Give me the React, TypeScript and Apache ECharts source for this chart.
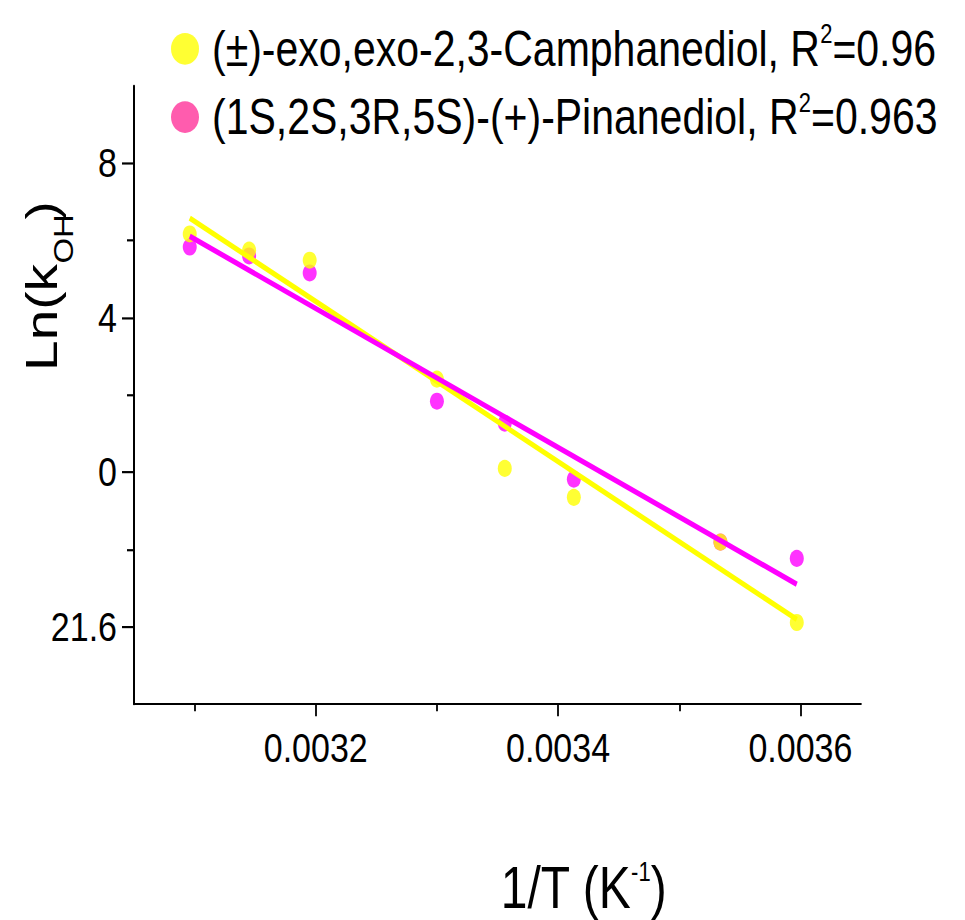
import React, { useEffect, useRef } from "react";
import * as echarts from "echarts";

// ---- data ----
const invT = [0.003096, 0.003145, 0.003195, 0.0033, 0.003356, 0.003413, 0.003534, 0.003597];
const camphanediol = [6.17, 5.75, 5.49, 2.41, 0.1, -0.65, -1.81, -3.89];
const pinanediol = [5.83, 5.6, 5.16, 1.84, 1.27, -0.18, -1.81, -2.23];
const fitX = [0.003096, 0.003597];
const camphanediolFit = [6.58, -3.81];
const pinanediolFit = [6.11, -2.9];

const xTickValues = [0.0032, 0.0034, 0.0036];
const xMinorTicks = [0.0031, 0.0033, 0.0035];
const yTickValues = [8, 4, 0, -4];
const yTickLabels = ["8", "4", "0", "21.6"];
const yMinorTicks = [6, 2, -2];

const CAMPH = "(±)-exo,exo-2,3-Camphanediol";
const PINAN = "(1S,2S,3R,5S)-(+)-Pinanediol";
const seriesNames = [CAMPH, PINAN];
const rSquared = ["0.96", "0.963"];

// The reference figure is vertically stretched; draw at SY-compressed height and stretch with CSS.
const SY = 1.22;
const W = 965;
const H = 920 / SY;

const FONT = "'Liberation Sans', Arial, Helvetica, sans-serif";
const ELLIPSE = "path://M14,0 A14,13 0 1,1 14,26 A14,13 0 1,1 14,0 Z";

export default function App() {
  const ref = useRef<HTMLDivElement>(null);
  useEffect(() => {
    if (!ref.current) return;
    const chart = echarts.init(ref.current, null, { renderer: "svg" });
    const zip = (xs: number[], ys: number[]) => xs.map((x, i) => [x, ys[i]]);
    const axisCommon = { type: "value" as const, splitLine: { show: false } };
    const tickStyle = { color: "#000", width: 1.8 };
    const titleText = (text: string, x: number, y: number, fontSize: number) => ({
      type: "text",
      x,
      y,
      style: { text, fontFamily: FONT, fontSize, fill: "#000", align: "left", verticalAlign: "middle" },
    });
    chart.setOption({
      animation: false,
      backgroundColor: "#ffffff",
      grid: { left: 134, top: 86 / SY, width: 727, height: 618 / SY, containLabel: false },
      legend: {
        orient: "vertical",
        left: 166,
        top: 12,
        itemWidth: 28,
        itemHeight: 26,
        itemGap: 3,
        selectedMode: false,
        data: [
          { name: CAMPH, icon: ELLIPSE, itemStyle: { color: "#FFFF00" } },
          { name: PINAN, icon: ELLIPSE, itemStyle: { color: "#FF339A" } },
        ],
        formatter: (name: string) => `${name}, R{sup|2}=${rSquared[seriesNames.indexOf(name)]}`,
        textStyle: {
          fontFamily: FONT,
          fontSize: 41,
          lineHeight: 46,
          color: "#000",
          padding: [0, 0, 0, 8],
          rich: {
            sup: { fontFamily: FONT, fontSize: 22, lineHeight: 22, verticalAlign: "top", padding: [0, 0, 31, 0], color: "#000" },
          },
        },
      },
      xAxis: [
        {
          ...axisCommon,
          min: 0.00305,
          max: 0.00365,
          position: "bottom",
          axisLine: { show: true, onZero: false, lineStyle: { color: "#000", width: 1.6 } },
          axisTick: { show: true, customValues: xTickValues, length: 10, lineStyle: tickStyle },
          axisLabel: {
            customValues: xTickValues,
            formatter: (v: number) => v.toFixed(4),
            margin: 19,
            fontSize: 34,
            fontFamily: FONT,
            color: "#000",
          },
        },
        {
          ...axisCommon,
          min: 0.00305,
          max: 0.00365,
          position: "bottom",
          axisLine: { show: false, onZero: false },
          axisTick: { show: true, customValues: xMinorTicks, length: 6, lineStyle: tickStyle },
          axisLabel: { show: false },
        },
      ],
      yAxis: [
        {
          ...axisCommon,
          min: -6,
          max: 10,
          interval: 2,
          position: "left",
          axisLine: { show: true, onZero: false, lineStyle: { color: "#000", width: 2 } },
          axisTick: { show: true, customValues: yTickValues, length: 12, lineStyle: tickStyle },
          axisLabel: {
            customValues: yTickValues,
            formatter: (v: number) => {
              const i = yTickValues.indexOf(v);
              return i >= 0 ? yTickLabels[i] : "";
            },
            margin: 17,
            fontSize: 34,
            fontFamily: FONT,
            color: "#000",
          },
        },
        {
          ...axisCommon,
          min: -6,
          max: 10,
          interval: 2,
          position: "left",
          axisLine: { show: false, onZero: false },
          axisTick: { show: true, customValues: yMinorTicks, length: 7, lineStyle: tickStyle },
          axisLabel: { show: false },
        },
      ],
      series: [
        {
          name: PINAN,
          type: "scatter",
          data: zip(invT, pinanediol),
          symbol: "circle",
          symbolSize: 14,
          itemStyle: { color: "#FF00FF" },
          z: 2,
        },
        {
          name: CAMPH,
          type: "scatter",
          data: zip(invT, camphanediol),
          symbol: "circle",
          symbolSize: 14,
          itemStyle: { color: "#FFFF00" },
          z: 3,
        },
        {
          name: CAMPH + " fit",
          type: "line",
          data: zip(fitX, camphanediolFit),
          showSymbol: false,
          lineStyle: { color: "#FFFF00", width: 4.4 },
          z: 4,
        },
        {
          name: PINAN + " fit",
          type: "line",
          data: zip(fitX, pinanediolFit),
          showSymbol: false,
          lineStyle: { color: "#FF00FF", width: 4.4 },
          z: 5,
        },
      ],
      graphic: [
        {
          type: "group",
          x: 42,
          y: 234,
          rotation: Math.PI / 2,
          children: [
            titleText("Ln(k", -70, 0, 45),
            titleText("OH", 18, 22, 27),
            titleText(")", 54, 0, 45),
          ],
        },
        {
          type: "text",
          x: 583.5,
          y: 727.8,
          style: {
            text: "1/T (K{sup|-1})",
            fontFamily: FONT,
            fontSize: 48,
            lineHeight: 48,
            fill: "#000",
            align: "center",
            verticalAlign: "middle",
            rich: {
              sup: { fontFamily: FONT, fontSize: 22, lineHeight: 22, verticalAlign: "top", padding: [0, 0, 44, 0], fill: "#000" },
            },
          },
        },
      ],
    });
    return () => chart.dispose();
  }, []);
  return (
    <div
      ref={ref}
      style={{
        position: "absolute",
        left: 0,
        top: 0,
        width: W,
        height: H,
        transform: `scaleY(${SY})`,
        transformOrigin: "0 0",
      }}
    />
  );
}
